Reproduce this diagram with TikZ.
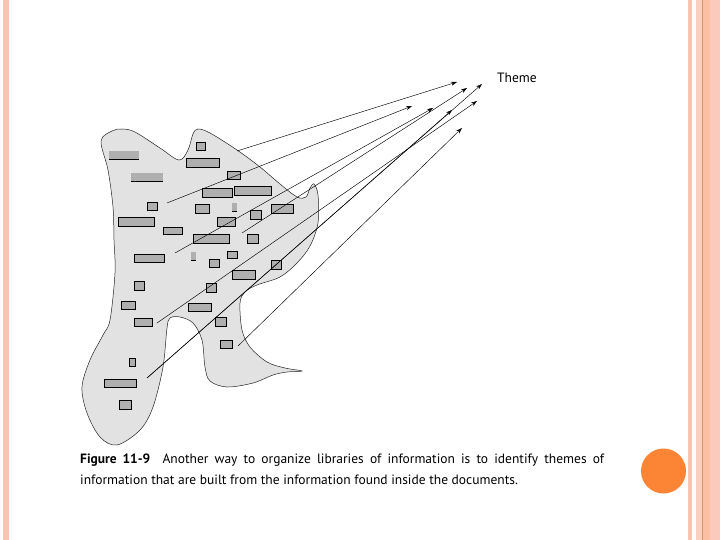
\documentclass[tikz,border=0pt]{standalone}
\usepackage{fontspec}
\setmainfont{PT Sans}
\usetikzlibrary{arrows.meta}
\definecolor{blobfill}{HTML}{E2E2E2}
\definecolor{docfill}{HTML}{AFAFAF}
\definecolor{stripeA}{HTML}{F7C6B0}
\definecolor{stripeB}{HTML}{FAD0BE}
\definecolor{stripeC}{HTML}{FBBFA4}
\definecolor{stripeD}{HTML}{FCCABC}
\definecolor{stripeLine}{HTML}{DE9468}
\definecolor{dotorange}{HTML}{FB8535}
\tikzset{
  docbox/.style={fill=docfill,draw=black,line width=0.6pt},
  docflat/.style={fill=docfill},
  link/.style={draw=black,line width=0.45pt,-{Stealth[length=6pt,width=4pt]}},
}
\begin{document}
\begin{tikzpicture}[x=1pt,y=-1pt]
\useasboundingbox (0,0) rectangle (720,540);
\fill[white] (0,0) rectangle (720,540);
% decorative stripes
\fill[stripeA] (3,0) rectangle (9,540);
\fill[stripeA] (688,0) rectangle (692,540);
\fill[stripeB] (696,0) rectangle (702,540);
\fill[stripeLine] (702,0) rectangle (703.2,540);
\fill[stripeC] (703.2,0) rectangle (710,540);
\fill[stripeD] (710,0) rectangle (720,540);
\fill[dotorange] (663.5,471) circle (22.5);
% blob
\draw[fill=blobfill,draw=black!85,line width=0.5pt] plot[smooth cycle,tension=0.55] coordinates {
 (101,141) (112,131) (122,129) (135,132) (160,148) (179,160) (188,150) (193,134) (198,129) (210,133)
 (237,150) (260,167) (280,184) (297,197) (306,197) (310,188) (314,184) (318,195) (318,223) (310,246)
 (297,263) (280,277) (257,285) (245,292) (240,303) (242,330) (250,347) (267,362) (285,368) (302,371)
 (287,372) (273,375) (253,383) (227,387) (210,381) (205,367) (202,340) (193,323) (180,317) (170,318)
 (167,328) (163,367) (153,407) (140,430) (117,445) (100,437) (87,413) (82,387) (90,360) (103,335)
 (110,320) (115,273) (114,240) (113,207) (108,170)};
% documents
\foreach \xa/\ya/\xb/\yb in {
 196/142/205/150, 186/158/219/167, 227/171/240/179, 202/188/232/197, 234/186/271/195,
 147/202/157/210, 195/204/209/213, 250/210/261/219, 271/204/293/213, 118/217/154/226,
 163/227/182/234, 217/217/235/226, 193/234/229/243, 247/234/258/243, 134/254/164/262,
 227/251/237/258, 209/259/219/267, 271/260/281/269, 232/270/255/279, 134/281/144/290,
 206/283/216/292, 121/301/135/309, 188/303/211/311, 134/318/152/326, 215/317/226/326,
 220/340/232/348, 129/358/135/366, 104/379/136/387, 119/400/131/409}
 {\draw[docbox] (\xa,\ya) rectangle (\xb,\yb);}
\foreach \xa/\ya/\xb/\yb in {109/151/139/159, 131/173/163/181, 232/203/237/211, 191/252/196/260}
 {\fill[docflat] (\xa,\ya) rectangle (\xb,\yb);
  \draw[black,line width=0.6pt] (\xa,\yb) -- (\xb,\yb);}
% theme label
\node[font=\fontsize{13.5}{15}\selectfont,inner sep=0pt] (theme) at (517,77.5) {Theme};
% start and end points
\coordinate (s1) at (237,151);
\coordinate (s2) at (167,203);
\coordinate (s3) at (175,253);
\coordinate (s4) at (242,233);
\coordinate (s5) at (157,323);
\coordinate (s6) at (147,378);
\coordinate (s7) at (238,346);
\coordinate (a1) at (457,82);
\coordinate (a2) at (467,88);
\coordinate (a3) at (482,84);
\coordinate (a4) at (412,106);
\coordinate (a5) at (433,108);
\coordinate (a6) at (452,110);
\coordinate (a7) at (477,101);
\coordinate (a8) at (462,128);
\draw[link] (s1) -- (a1);
\draw[link] (s2) -- (a4);
\draw[link] (s3) -- (a5);
\draw[link] (s4) -- (a2);
\draw[link] (s5) -- (a7);
\draw[link] (s6) -- (a6);
\draw[link] (s6) -- (a3);
\draw[link] (s7) -- (a8);
% caption
\node[anchor=north west,inner sep=0pt,text width=524pt,align=justify,
  font=\fontsize{13.5}{21}\selectfont] (caption) at (80,454)
 {\textbf{Figure 11-9}\hspace{0.9em}Another way to organize libraries of information is to identify themes of\linebreak information that are built from the information found inside the documents.};
\end{tikzpicture}
\end{document}
